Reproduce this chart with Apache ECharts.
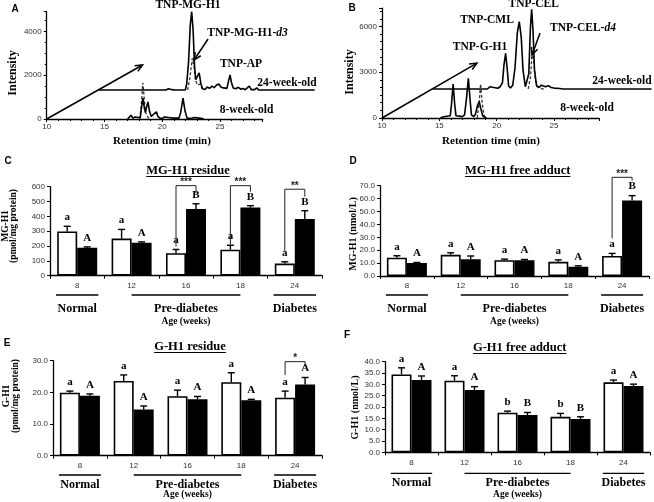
<!DOCTYPE html>
<html><head><meta charset="utf-8">
<script src="https://cdn.jsdelivr.net/npm/echarts@6/dist/echarts.min.js"></script>
<style>html,body{margin:0;padding:0;background:#fff}#c{width:654px;height:502px}</style>
</head><body><div id="c"></div><script>
// ---------- DATA ----------
// Panel A chromatograms: [retention time (min), intensity] as displayed (24-week trace drawn on its offset baseline)
const aWeek8Solid = [[17.0,0],[17.15,60],[17.3,170],[17.45,40],[17.65,90],[17.8,20],[18.1,60],[18.2,500],[18.33,950],[18.47,450],[18.55,300],[18.65,550],[18.77,780],[18.9,350],[19.05,120],[19.2,200],[19.5,330],[19.62,120],[19.8,40],[20.0,30],[20.2,90],[20.35,20],[20.7,60],[20.85,110],[21.0,40],[21.45,40],[21.6,300],[21.8,950],[21.98,350],[22.15,40],[22.5,20],[22.75,70],[22.9,20],[23.2,40],[23.3,80],[23.45,20],[23.6,0]];
const aWeek8Dashed = [[18.05,0],[18.18,600],[18.32,1650],[18.45,900],[18.55,300],[18.7,150],[18.8,50],[19.0,0]];
const aWeek24Solid = [[14.5,1324],[20.3,1324],[20.55,1380],[20.69,1450],[20.85,1340],[21.1,1324],[22.0,1324],[22.12,1600],[22.28,2600],[22.43,4300],[22.55,4900],[22.67,4100],[22.8,2400],[22.9,1800],[23.05,1750],[23.2,2110],[23.35,1600],[23.5,1380],[23.7,1350],[23.9,1460],[24.1,1400],[24.3,1500],[24.5,1430],[24.7,1550],[24.9,1600],[25.1,1450],[25.3,1420],[25.45,1350],[25.6,1400],[25.75,1750],[25.87,2010],[26.0,1650],[26.15,1420],[26.35,1380],[26.6,1447],[26.8,1360],[27.0,1390],[27.2,1340],[27.54,1507],[27.7,1340],[28.0,1340],[28.18,1420],[28.35,1324],[33.2,1324]];
const aWeek24Dashed = [[22.2,1324],[22.4,1900],[22.6,2770],[22.75,2400],[22.9,1750],[23.05,1550],[23.25,1600],[23.45,1400],[23.7,1324]];
// Panel B chromatograms
const bWeek8Solid = [[15.1,0],[15.3,70],[15.45,20],[15.65,110],[15.8,40],[15.95,150],[16.06,900],[16.2,2230],[16.34,900],[16.45,150],[16.6,60],[16.8,120],[17.0,90],[17.2,200],[17.37,1300],[17.53,2600],[17.69,1100],[17.8,200],[18.0,100],[18.15,250],[18.32,800],[18.48,1070],[18.62,600],[18.78,150],[18.95,60],[19.1,0]];
const bWeek8Dashed = [[18.3,0],[18.47,1000],[18.6,2230],[18.73,1000],[18.9,150],[19.05,0]];
const bWeek24Solid = [[14.45,1900],[19.2,1900],[19.4,2050],[19.55,1920],[20.1,1950],[20.3,2050],[20.5,2300],[20.64,3500],[20.78,4240],[20.92,3200],[21.04,2100],[21.2,1960],[21.4,2150],[21.6,3300],[21.8,5600],[21.97,6310],[22.14,5300],[22.3,3100],[22.5,2050],[22.65,2000],[22.8,2900],[22.94,5900],[23.05,7120],[23.17,5700],[23.3,3100],[23.48,2100],[23.7,2000],[23.9,2150],[24.05,2220],[24.25,2050],[24.5,2120],[24.75,2000],[25.0,1960],[25.5,1930],[25.8,1900],[33.5,1900]];
const bWeek24Dashed = [[22.75,1900],[22.95,2700],[23.1,4450],[23.24,3600],[23.4,2400],[23.6,2050],[23.85,1920],[24.1,1900]];
// arrows [x0, y0, x1, y1] in data units
const aArrows = [[10,0,18.3,2466],[23.97,3653,22.75,2694]];
const bArrows = [[10,0,18.28,3600],[23.78,5568,23.08,4127]];
const aTimeTicks = [10,15,20,25];
const bTimeTicks = [10,15,20,25];
const aIntensityTicks = [0,2000,4000];
const bIntensityTicks = [0,3000,6000];

// Bar panels
const ageCategories = ['8','12','16','18','24'];
const groupNames = ['Normal','Pre-diabetes','Diabetes'];
const groupSpans = [[0,0],[1,3],[4,4]];
const ageTitle = 'Age (weeks)';

const cOpen = [298,250,152,175,82],   cOpenErr = [35,62,25,30,12];
const cFilled = [188,222,450,459,383], cFilledErr = [6,6,35,13,55];
const cOpenLetters = ['a','a','a','a','a'], cFilledLetters = ['A','A','B','B','B'];
const cBrackets = [[2,607,196,556],[3,607,200,566],[4,583,162,533]], cStars = ['***','***','**'];

const dOpen = [14.2,16.4,12.3,11.0,15.5],  dOpenErr = [1.5,1.6,0.8,1.5,2.0];
const dFilled = [10.0,12.9,12.3,7.2,58.5], dFilledErr = [0.5,2.6,0.5,0.7,3.8];
const dOpenLetters = ['a','a','a','a','a'], dFilledLetters = ['A','A','A','A','B'];
const dBrackets = [[4,76.5,29.2,73.9]], dStars = ['***'];

const eOpen = [19.9,23.6,18.8,23.2,18.3],  eOpenErr = [0.5,1.9,1.9,3.0,2.1];
const eFilled = [18.9,14.6,17.8,17.5,22.5], eFilledErr = [0.6,1.1,0.9,0.3,2.2];
const eOpenLetters = ['a','a','a','a','a'], eFilledLetters = ['A','A','A','A','A'];
const eBrackets = [[4,29.7,25.5,28.1]], eStars = ['*'];

const fOpen = [34.4,31.6,17.5,15.7,30.9],  fOpenErr = [2.9,2.2,0.7,1.5,1.0];
const fFilled = [31.9,27.5,16.5,14.7,29.3], fFilledErr = [1.8,1.5,1.1,1.0,0.8];
const fOpenLetters = ['a','a','b','b','a'], fFilledLetters = ['A','A','B','B','A'];

// ---------- STYLE ----------
const SERIF = '"Liberation Serif","Times New Roman",serif';
const SANS = '"Liberation Sans",Arial,sans-serif';
const BLACK = '#000';

function tickFmt(list){ return v => list.indexOf(v) >= 0 ? String(v) : ''; }

function chromX(grid, max, ticks, show){
  if(!show) return {type:'value', gridIndex:grid, min:10, max:max, show:false};
  return {type:'value', gridIndex:grid, min:10, max:max, interval:5,
    axisLine:{show:true, onZero:false, lineStyle:{color:BLACK, width:1.3}},
    axisTick:{show:true, length:3, lineStyle:{color:BLACK}},
    minorTick:{show:true, splitNumber:5, length:2, lineStyle:{color:BLACK}},
    axisLabel:{fontSize:8, fontFamily:SANS, color:'#333', margin:4, formatter:tickFmt(ticks)},
    splitLine:{show:false}, minorSplitLine:{show:false}};
}
function chromY(grid, max, interval, ticks, show, minorSplit){
  if(!show) return {type:'value', gridIndex:grid, min:0, max:max, show:false};
  return {type:'value', gridIndex:grid, min:0, max:max, interval:interval,
    axisLine:{show:true, lineStyle:{color:BLACK, width:1.3}},
    axisTick:{show:true, length:3, lineStyle:{color:BLACK}},
    minorTick:{show:true, splitNumber:minorSplit, length:2, lineStyle:{color:BLACK}},
    axisLabel:{fontSize:8, fontFamily:SANS, color:'#333', margin:5, formatter:tickFmt(ticks)},
    splitLine:{show:false}, minorSplitLine:{show:false}};
}
function catX(grid){
  return {type:'category', gridIndex:grid, data:ageCategories,
    axisLine:{show:true, lineStyle:{color:BLACK, width:1.3}},
    axisTick:{show:true, length:3, lineStyle:{color:BLACK}},
    axisLabel:{fontSize:8, fontFamily:SANS, color:'#333', margin:6},
    splitLine:{show:false}};
}
function barY(grid, max, interval, dec){
  return {type:'value', gridIndex:grid, min:0, max:max, interval:interval,
    axisLine:{show:true, lineStyle:{color:BLACK, width:1.3}},
    axisTick:{show:true, length:3, lineStyle:{color:BLACK}},
    axisLabel:{fontSize:8, fontFamily:SANS, color:'#333', margin:5, formatter: v => v.toFixed(dec)},
    splitLine:{show:false}};
}

function txt(text, x, y, font, opts){
  opts = opts || {};
  return Object.assign({type:'text', x:x, y:y, rotation:opts.rotation||0, silent:true,
    style:Object.assign({text:text, font:font, fill:BLACK,
      align:opts.align||'center', textAlign:opts.align||'center',
      verticalAlign:opts.valign||'middle', textVerticalAlign:opts.valign||'middle',
      lineHeight:opts.lineHeight}, opts.style||{})});
}

function arrowRender(params, api){
  const p0 = api.coord([api.value(0), api.value(1)]);
  const p1 = api.coord([api.value(2), api.value(3)]);
  const ang = Math.atan2(p1[1]-p0[1], p1[0]-p0[0]);
  const L = 8, w = 0.42;
  const h1 = [p1[0]-L*Math.cos(ang-w), p1[1]-L*Math.sin(ang-w)];
  const h2 = [p1[0]-L*Math.cos(ang+w), p1[1]-L*Math.sin(ang+w)];
  return {type:'group', children:[
    {type:'line', shape:{x1:p0[0],y1:p0[1],x2:p1[0],y2:p1[1]}, style:{stroke:BLACK, lineWidth:1.5}},
    {type:'polyline', shape:{points:[h1,[p1[0],p1[1]],h2]}, style:{stroke:BLACK, lineWidth:1.5, fill:null}}
  ]};
}

function errRender(offset, letters){
  return function(params, api){
    const i = api.value(0), v = api.value(1), e = api.value(2);
    const b = api.coord([i, v]), t = api.coord([i, v+e]);
    const x = b[0] + offset, cap = 3.5;
    return {type:'group', children:[
      {type:'line', shape:{x1:x,y1:b[1],x2:x,y2:t[1]}, style:{stroke:BLACK, lineWidth:1.4}},
      {type:'line', shape:{x1:x-cap,y1:t[1],x2:x+cap,y2:t[1]}, style:{stroke:BLACK, lineWidth:1.4}},
      {type:'text', x:x, y:t[1]-9, style:{text:letters[params.dataIndex], font:'bold 11px '+SERIF, fill:BLACK,
        align:'center', textAlign:'center', verticalAlign:'middle', textVerticalAlign:'middle'}}
    ]};
  };
}
function bracketRender(stars){
  return function(params, api){
    const i = api.value(0);
    const pt = api.coord([i, api.value(1)]), pl = api.coord([i, api.value(2)]), pr = api.coord([i, api.value(3)]);
    const xl = pt[0]-10, xr = pt[0]+10;
    return {type:'group', children:[
      {type:'polyline', shape:{points:[[xl,pl[1]],[xl,pt[1]],[xr,pt[1]],[xr,pr[1]]]}, style:{stroke:'#222', lineWidth:1, fill:null}},
      {type:'text', x:(xl+xr)/2, y:pt[1]-3, style:{text:stars[params.dataIndex], font:'bold 10px '+SANS, fill:'#222',
        align:'center', textAlign:'center', verticalAlign:'middle', textVerticalAlign:'middle'}}
    ]};
  };
}
function groupRender(lineOff, labelOff, ageOff){
  return function(params, api){
    const span = groupSpans[params.dataIndex];
    const p0 = api.coord([span[0],0]), p1 = api.coord([span[1],0]);
    const band = api.size([1,0])[0];
    let x0 = p0[0], x1 = p1[0];
    if(span[0]===span[1]){ x0 -= band*0.39; x1 += band*0.39; }
    const kids = [
      {type:'line', shape:{x1:x0,y1:p0[1]+lineOff,x2:x1,y2:p0[1]+lineOff}, style:{stroke:BLACK, lineWidth:1.3}},
      {type:'text', x:(x0+x1)/2, y:p0[1]+labelOff, style:{text:groupNames[params.dataIndex], font:'bold 12px '+SERIF, fill:BLACK,
        align:'center', textAlign:'center', verticalAlign:'middle', textVerticalAlign:'middle'}}
    ];
    if(params.dataIndex===1){
      kids.push({type:'text', x:(x0+x1)/2, y:p0[1]+ageOff, style:{text:ageTitle, font:'bold 9.5px '+SERIF, fill:BLACK,
        align:'center', textAlign:'center', verticalAlign:'middle', textVerticalAlign:'middle'}});
    }
    return {type:'group', children:kids};
  };
}

function lineSeries(xi, data, dashed){
  return {type:'line', xAxisIndex:xi, yAxisIndex:xi, data:data, showSymbol:false, symbol:'none', silent:true,
    lineStyle: dashed ? {color:'#333', width:1.3, type:[3,2]} : {color:BLACK, width:1.6}, z: dashed?2:3};
}
function barPanel(ai, open, openErr, filled, filledErr, openL, filledL, brackets, stars, offs){
  const s = [
    {type:'bar', xAxisIndex:ai, yAxisIndex:ai, data:open, barWidth:20, barGap:'0%', silent:true,
      itemStyle:{color:'#fff', borderColor:BLACK, borderWidth:1.6}},
    {type:'bar', xAxisIndex:ai, yAxisIndex:ai, data:filled, barWidth:20, barGap:'0%', silent:true,
      itemStyle:{color:BLACK, borderColor:BLACK, borderWidth:1.6}},
    {type:'custom', xAxisIndex:ai, yAxisIndex:ai, silent:true, z:5, renderItem:errRender(-10, openL),
      data:open.map((v,i)=>[i,v,openErr[i]])},
    {type:'custom', xAxisIndex:ai, yAxisIndex:ai, silent:true, z:5, renderItem:errRender(10, filledL),
      data:filled.map((v,i)=>[i,v,filledErr[i]])},
    {type:'custom', xAxisIndex:ai, yAxisIndex:ai, silent:true, z:5, renderItem:groupRender(offs[0],offs[1],offs[2]),
      data:groupSpans.map(g=>[g[0],0])}
  ];
  if(brackets){
    s.push({type:'custom', xAxisIndex:ai, yAxisIndex:ai, silent:true, z:5, renderItem:bracketRender(stars), data:brackets});
  }
  return s;
}

const TITLE_FONT = 'bold 12.5px '+SERIF;
const measure = (function(){ const c = document.createElement('canvas').getContext('2d');
  return function(t, f){ c.font = f; return c.measureText(t).width; }; })();
function underlinedTitle(text, cx, cy){
  const w = measure(text, TITLE_FONT);
  return [txt(text, cx, cy, TITLE_FONT),
    {type:'line', silent:true, shape:{x1:cx-w/2, y1:cy+6, x2:cx+w/2, y2:cy+6}, style:{stroke:BLACK, lineWidth:1}}];
}

const LBL = 'bold 11.5px '+SERIF;
const italicRich = {i:{font:'italic bold 11.5px '+SERIF, fill:BLACK}};
const graphics = [
  txt('A', 15, 9, 'bold 10px '+SANS), txt('B', 352, 8, 'bold 10px '+SANS),
  txt('C', 8, 161, 'bold 10px '+SANS), txt('D', 353, 161, 'bold 10px '+SANS),
  txt('E', 7, 343, 'bold 10px '+SANS), txt('F', 347, 335, 'bold 10px '+SANS),
  txt('Intensity', 12.5, 73, 'bold 12px '+SERIF, {rotation:Math.PI/2}),
  txt('Intensity', 349.5, 72, 'bold 12px '+SERIF, {rotation:Math.PI/2}),
  txt('Retention time (min)', 162, 141.5, 'bold 11px '+SERIF),
  txt('Retention time (min)', 491, 141.5, 'bold 11px '+SERIF),
  txt('TNP-MG-H1', 188, 5, LBL),
  txt('TNP-MG-H1-{i|d3}', 247.5, 33.5, LBL, {style:{rich:italicRich}}),
  txt('TNP-AP', 241, 64.5, LBL),
  txt('24-week-old', 287, 83, LBL),
  txt('8-week-old', 246.5, 110, LBL),
  txt('TNP-CEL', 533.7, 4.5, LBL),
  txt('TNP-CML', 487, 20.5, LBL),
  txt('TNP-CEL-{i|d4}', 583, 28, LBL, {style:{rich:italicRich}}),
  txt('TNP-G-H1', 480, 46.7, LBL),
  txt('24-week-old', 622, 81, LBL),
  txt('8-week-old', 587, 108.3, LBL),
  txt('MG-H1\n(pmol/mg protein)', 9.5, 226, 'bold 9.5px '+SERIF, {rotation:Math.PI/2, lineHeight:8.5}),
  txt('MG-H1 (nmol/L)', 353.7, 234, 'bold 10px '+SERIF, {rotation:Math.PI/2}),
  txt('G-H1\n(pmol/mg protein)', 11.2, 396, 'bold 9.5px '+SERIF, {rotation:Math.PI/2, lineHeight:8.5}),
  txt('G-H1 (nmol/L)', 355, 407.5, 'bold 10px '+SERIF, {rotation:Math.PI/2})
].concat(underlinedTitle('MG-H1 residue', 188, 170.5))
 .concat(underlinedTitle('MG-H1 free adduct', 517.7, 170.5))
 .concat(underlinedTitle('G-H1 residue', 190, 346.5))
 .concat(underlinedTitle('G-H1 free adduct', 519.7, 347.5));

const G = (l,t,w,h) => ({left:l, top:t, width:w, height:h, containLabel:false, outerBoundsMode:'none'});

const option = {
  animation:false,
  backgroundColor:'#fff',
  textStyle:{fontFamily:SANS},
  grid:[
    G(46.7, 11.7, 216, 107.3),   // A axes
    G(46.7, 11.7, 268, 107.3),   // A traces
    G(382, 8.1, 216.8, 109.9),   // B axes
    G(382, 8.1, 269.5, 109.9),   // B traces
    G(50, 186.7, 272, 89),       // C
    G(380, 185.7, 269, 90.3),    // D
    G(53, 360.7, 269, 95),       // E
    G(385, 361.7, 265, 90.7)     // F
  ],
  xAxis:[
    chromX(0, 28.7, aTimeTicks, true), chromX(1, 33.2, aTimeTicks, false),
    chromX(2, 28.9, bTimeTicks, true), chromX(3, 33.5, bTimeTicks, false),
    catX(4), catX(5), catX(6), catX(7)
  ],
  yAxis:[
    chromY(0, 4900, 2000, aIntensityTicks, true, 4), chromY(1, 4900, 2000, aIntensityTicks, false),
    chromY(2, 7200, 3000, bIntensityTicks, true, 6), chromY(3, 7200, 3000, bIntensityTicks, false),
    barY(4, 600, 100, 0), barY(5, 70, 10, 1), barY(6, 30, 10, 1), barY(7, 40, 5, 1)
  ],
  graphic:{elements:graphics},
  series:[
    lineSeries(1, aWeek8Dashed, true), lineSeries(1, aWeek8Solid, false),
    lineSeries(1, aWeek24Dashed, true), lineSeries(1, aWeek24Solid, false),
    {type:'custom', xAxisIndex:1, yAxisIndex:1, silent:true, z:6, renderItem:arrowRender, data:aArrows},
    lineSeries(3, bWeek8Dashed, true), lineSeries(3, bWeek8Solid, false),
    lineSeries(3, bWeek24Dashed, true), lineSeries(3, bWeek24Solid, false),
    {type:'custom', xAxisIndex:3, yAxisIndex:3, silent:true, z:6, renderItem:arrowRender, data:bArrows}
  ].concat(barPanel(4, cOpen, cOpenErr, cFilled, cFilledErr, cOpenLetters, cFilledLetters, cBrackets, cStars, [19.3, 33, 45.5]))
   .concat(barPanel(5, dOpen, dOpenErr, dFilled, dFilledErr, dOpenLetters, dFilledLetters, dBrackets, dStars, [19, 33, 45.5]))
   .concat(barPanel(6, eOpen, eOpenErr, eFilled, eFilledErr, eOpenLetters, eFilledLetters, eBrackets, eStars, [19.3, 29.5, 39]))
   .concat(barPanel(7, fOpen, fOpenErr, fFilled, fFilledErr, fOpenLetters, fFilledLetters, null, null, [21, 31, 42]))
};
const chart = echarts.init(document.getElementById('c'), null, {renderer:'canvas', width:654, height:502});
chart.setOption(option);
</script></body></html>
